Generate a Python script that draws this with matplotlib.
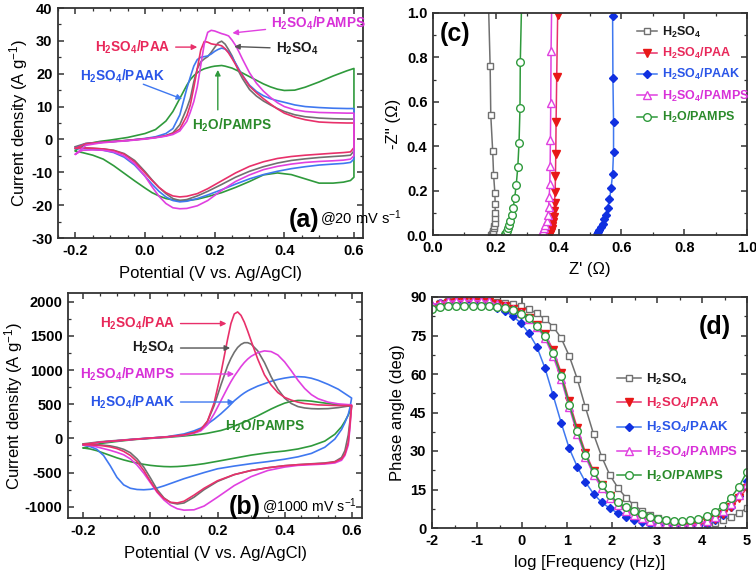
import matplotlib
matplotlib.use('Agg')
import matplotlib.pyplot as plt
from matplotlib.ticker import MultipleLocator
from matplotlib.lines import Line2D

plt.rcParams['font.family'] = ['Liberation Sans', 'DejaVu Sans']
plt.rcParams['mathtext.default'] = 'regular'
plt.rcParams['axes.unicode_minus'] = False
plt.rcParams['axes.linewidth'] = 1.3
plt.rcParams['axes.edgecolor'] = '#333333'

# series names and colours
NAMES = [r'H$_2$SO$_4$', r'H$_2$SO$_4$/PAA', r'H$_2$SO$_4$/PAAK',
         r'H$_2$SO$_4$/PAMPS', r'H$_2$O/PAMPS']
LINE_COLORS = ['#707070', '#e8306a', '#3f78f0', '#e040e0', '#2f9a3c']
TEXT_COLORS = ['#1a1a1a', '#e8285a', '#2a55e8', '#d830d8', '#2a8a2a']
MARK_COLORS = ['#707070', '#e81818', '#1030e0', '#e040e0', '#2f9a3c']

# ---------------- (a) CV @ 20 mV/s ----------------
va_fwd = [-0.20, -0.17, -0.13, -0.10, -0.05, 0.00, 0.03, 0.06, 0.08, 0.10, 0.12, 0.13,
          0.14, 0.15, 0.16, 0.17, 0.18, 0.19, 0.20, 0.21, 0.22, 0.23, 0.24, 0.25, 0.26,
          0.27, 0.28, 0.30, 0.32, 0.34, 0.36, 0.38, 0.40, 0.43, 0.46, 0.50, 0.54, 0.58, 0.60]
ia_fwd_h2so4 = [-2.2, -1.2, -0.9, -0.7, -0.3, 0.2, 0.6, 1.2, 2.0, 4.5, 9.5, 12.5, 17.5, 21.5,
                23.6, 24.5, 25.2, 26.5, 28.0, 29.4, 29.9, 29.0, 27.3, 25.4, 23.0, 20.5, 18.5,
                15.2, 13.2, 11.7, 10.5, 9.4, 8.5, 7.5, 6.9, 6.5, 6.3, 6.2, 6.2]
ia_fwd_paa = [-2.7, -1.3, -0.9, -0.7, -0.3, 0.2, 0.6, 1.1, 1.8, 3.2, 7.2, 10.5, 15.8, 21.5,
              27.2, 29.8, 29.6, 29.1, 28.9, 28.8, 28.5, 27.6, 26.3, 24.6, 22.8, 21.0, 19.4,
              16.2, 14.2, 12.4, 10.8, 9.3, 8.0, 6.8, 6.0, 5.3, 5.1, 5.0, 5.0]
ia_fwd_paak = [-2.6, -1.3, -0.9, -0.7, -0.3, 0.3, 0.8, 1.8, 3.3, 7.5, 15.5, 19.0, 22.3, 24.3,
               25.0, 25.2, 25.4, 26.0, 26.8, 27.4, 27.8, 27.5, 26.6, 25.0, 23.2, 21.3, 19.5,
               16.5, 14.6, 13.3, 12.4, 11.8, 11.3, 10.5, 10.0, 9.7, 9.5, 9.4, 9.4]
ia_fwd_pamps = [-4.5, -1.8, -1.1, -0.8, -0.4, 0.1, 0.5, 1.0, 1.5, 2.6, 5.5, 8.3, 11.5, 16.0,
                22.5, 29.0, 32.6, 33.2, 33.0, 32.6, 32.2, 31.9, 31.5, 30.2, 28.6, 26.6, 24.4,
                20.3, 17.1, 14.7, 12.8, 11.2, 10.0, 9.0, 8.5, 8.2, 8.1, 8.0, 8.0]
ia_fwd_h2o = [-3.3, -1.4, -0.6, -0.2, 0.6, 1.8, 3.0, 5.6, 8.5, 12.5, 16.5, 18.2, 19.4, 20.3,
              21.0, 21.5, 21.8, 22.1, 22.3, 22.4, 22.5, 22.3, 22.0, 21.7, 21.2, 20.7, 20.2,
              19.1, 18.0, 16.9, 16.0, 15.3, 14.9, 15.0, 15.9, 17.5, 19.3, 20.9, 21.6]

va_rev = [0.60, 0.59, 0.57, 0.54, 0.50, 0.46, 0.42, 0.38, 0.34, 0.30, 0.26, 0.22, 0.18, 0.15,
          0.12, 0.10, 0.08, 0.06, 0.04, 0.02, 0.00, -0.03, -0.06, -0.09, -0.12, -0.15, -0.18, -0.20]
ia_rev_h2so4 = [-3.5, -4.8, -5.0, -5.2, -5.5, -5.9, -6.4, -7.2, -8.3, -9.7, -11.5, -13.7, -15.8,
                -17.2, -18.3, -18.6, -18.0, -16.5, -14.6, -12.3, -9.8, -6.4, -4.3, -3.3, -2.9,
                -2.7, -2.5, -2.3]
ia_rev_paa = [-2.5, -3.8, -4.0, -4.2, -4.5, -4.8, -5.2, -5.8, -6.8, -8.2, -10.2, -12.6, -15.0,
              -16.5, -17.3, -17.5, -17.2, -16.2, -14.6, -12.5, -10.2, -6.8, -4.5, -3.4, -2.9,
              -2.7, -2.6, -2.7]
ia_rev_paak = [-6.0, -7.0, -7.3, -7.5, -7.8, -8.3, -8.9, -9.7, -10.7, -12.0, -13.6, -15.3, -16.9,
               -18.0, -18.8, -19.0, -18.6, -17.5, -15.8, -13.6, -11.2, -7.8, -5.4, -4.0, -3.3,
               -3.0, -2.8, -2.8]
ia_rev_pamps = [-5.0, -6.0, -6.3, -6.5, -6.7, -7.0, -7.5, -8.2, -9.2, -10.8, -12.8, -15.5, -18.6,
                -20.2, -21.0, -21.1, -20.8, -19.5, -17.3, -14.4, -11.2, -7.4, -5.0, -3.8, -3.3,
                -3.2, -3.3, -4.5]
ia_rev_h2o = [-11.5, -12.5, -13.0, -13.3, -13.3, -12.0, -10.7, -10.2, -10.8, -12.8, -14.6, -16.2,
              -17.4, -18.2, -18.6, -18.6, -18.4, -18.0, -17.2, -16.2, -14.8, -12.6, -10.3, -8.0,
              -6.0, -4.8, -4.0, -3.6]

# ---------------- (b) CV @ 1000 mV/s ----------------
vb_fwd = [-0.20, -0.15, -0.10, -0.05, 0.00, 0.05, 0.10, 0.13, 0.15, 0.17, 0.19, 0.21, 0.23,
          0.24, 0.25, 0.26, 0.27, 0.28, 0.29, 0.30, 0.32, 0.34, 0.36, 0.38, 0.40, 0.42, 0.44,
          0.46, 0.48, 0.50, 0.53, 0.56, 0.60]
ib_fwd_h2so4 = [-80, -50, -30, -12, 5, 22, 50, 85, 125, 250, 480, 780, 1060, 1170, 1260, 1330,
                1375, 1400, 1400, 1380, 1280, 1110, 900, 720, 590, 510, 465, 445, 435, 432,
                435, 450, 480]
ib_fwd_paa = [-90, -55, -35, -15, 5, 22, 50, 85, 130, 250, 520, 950, 1450, 1680, 1820, 1850,
              1800, 1700, 1570, 1430, 1160, 930, 780, 670, 600, 560, 530, 510, 500, 490, 485,
              480, 480]
ib_fwd_paak = [-100, -55, -35, -12, 5, 25, 65, 110, 150, 210, 280, 360, 450, 500, 550, 590, 630,
               665, 695, 720, 765, 800, 835, 862, 882, 897, 903, 898, 880, 850, 790, 720, 590]
ib_fwd_pamps = [-95, -55, -35, -15, 3, 20, 45, 75, 110, 200, 360, 550, 740, 830, 910, 980, 1050,
                1110, 1160, 1200, 1255, 1280, 1270, 1220, 1120, 990, 850, 730, 640, 580, 530,
                505, 490]
ib_fwd_h2o = [-140, -75, -45, -18, 0, 15, 35, 50, 60, 75, 95, 115, 145, 160, 180, 200, 220, 240,
              262, 285, 330, 380, 430, 475, 515, 542, 555, 553, 545, 530, 510, 490, 470]

vb_rev = [0.60, 0.595, 0.59, 0.58, 0.57, 0.55, 0.52, 0.48, 0.44, 0.40, 0.35, 0.30, 0.25, 0.20,
          0.16, 0.13, 0.10, 0.08, 0.06, 0.04, 0.02, 0.00, -0.02, -0.04, -0.06, -0.08, -0.10,
          -0.12, -0.14, -0.16, -0.18, -0.20]
ib_rev_h2so4 = [480, 250, 50, -180, -280, -340, -360, -372, -385, -400, -430, -470, -530, -630,
                -750, -860, -945, -960, -940, -870, -750, -580, -420, -300, -210, -160, -130,
                -110, -100, -92, -85, -80]
ib_rev_paa = [480, 200, -60, -230, -300, -345, -365, -375, -385, -400, -430, -470, -530, -620,
              -730, -830, -920, -945, -935, -880, -780, -630, -470, -340, -250, -190, -150,
              -125, -110, -100, -95, -90]
ib_rev_paak = [590, 450, 350, 230, 130, -10, -130, -220, -270, -305, -340, -370, -405, -445,
               -500, -545, -590, -625, -660, -695, -725, -745, -752, -748, -730, -680, -570,
               -400, -250, -160, -120, -100]
ib_rev_pamps = [490, 150, -100, -250, -320, -360, -375, -385, -395, -420, -470, -560, -690, -860,
                -990, -1045, -1050, -1030, -980, -900, -790, -650, -510, -390, -300, -240,
                -205, -175, -150, -125, -105, -95]
ib_rev_h2o = [470, 400, 340, 250, 170, 60, -40, -110, -155, -185, -210, -245, -290, -335, -370,
              -390, -405, -412, -415, -412, -405, -395, -380, -362, -340, -315, -285, -250,
              -215, -180, -155, -140]

# ---------------- (c) Nyquist ----------------
zr_h2so4 = [0.186, 0.188, 0.190, 0.192, 0.193, 0.195, 0.196, 0.197, 0.198, 0.198, 0.197, 0.193,
            0.190, 0.184, 0.182, 0.176]
zi_h2so4 = [0.002, 0.006, 0.012, 0.020, 0.030, 0.040, 0.055, 0.075, 0.100, 0.140, 0.190, 0.270,
            0.380, 0.540, 0.760, 1.080]
zr_paa = [0.373, 0.374, 0.376, 0.378, 0.380, 0.382, 0.384, 0.386, 0.387, 0.389, 0.390, 0.391,
          0.392, 0.394, 0.397, 0.399]
zi_paa = [0.003, 0.008, 0.015, 0.025, 0.040, 0.060, 0.080, 0.110, 0.145, 0.195, 0.265, 0.365,
          0.510, 0.710, 0.990, 1.100]
zr_paak = [0.522, 0.526, 0.530, 0.535, 0.540, 0.545, 0.550, 0.556, 0.562, 0.567, 0.572, 0.575,
           0.575, 0.573, 0.572, 0.571]
zi_paak = [0.005, 0.012, 0.022, 0.035, 0.050, 0.070, 0.090, 0.120, 0.160, 0.210, 0.275, 0.375,
           0.510, 0.705, 0.985, 1.100]
zr_pamps = [0.344, 0.347, 0.350, 0.355, 0.358, 0.362, 0.365, 0.368, 0.370, 0.372, 0.373, 0.374,
            0.375, 0.376, 0.379]
zi_pamps = [0.004, 0.010, 0.018, 0.030, 0.045, 0.065, 0.090, 0.125, 0.170, 0.230, 0.310, 0.430,
            0.595, 0.830, 1.150]
zr_h2o = [0.230, 0.232, 0.235, 0.238, 0.242, 0.246, 0.250, 0.255, 0.260, 0.265, 0.270, 0.274,
          0.277, 0.278, 0.283]
zi_h2o = [0.005, 0.010, 0.018, 0.030, 0.045, 0.065, 0.090, 0.120, 0.165, 0.225, 0.305, 0.415,
          0.570, 0.780, 1.100]

# ---------------- (d) Bode phase ----------------
log_f = [-2.00, -1.82, -1.64, -1.46, -1.28, -1.10, -0.92, -0.74, -0.56, -0.38, -0.21, -0.03,
         0.15, 0.33, 0.51, 0.69, 0.87, 1.05, 1.23, 1.41, 1.59, 1.77, 1.95, 2.13, 2.31, 2.49,
         2.67, 2.85, 3.03, 3.21, 3.38, 3.56, 3.74, 3.92, 4.10, 4.28, 4.46, 4.64, 4.82, 5.00]
ph_h2so4 = [86.0, 87.5, 88.3, 88.6, 88.7, 88.7, 88.7, 88.6, 88.2, 87.8, 87.3, 86.4, 85.3, 83.6,
            81.4, 78.5, 74.0, 67.0, 58.0, 47.0, 36.6, 27.8, 20.7, 15.7, 11.8, 8.9, 6.7, 5.2,
            4.0, 3.1, 2.4, 1.8, 1.4, 1.2, 1.4, 2.0, 3.0, 4.3, 5.8, 7.8]
ph_paa = [85.5, 87.0, 87.8, 88.2, 88.3, 88.3, 88.2, 88.0, 87.2, 86.5, 85.5, 84.0, 82.0, 79.2,
          75.5, 69.5, 60.5, 49.3, 38.8, 29.4, 22.2, 16.8, 12.5, 9.4, 7.0, 5.2, 3.9, 2.9, 2.1,
          1.5, 1.1, 0.9, 0.9, 1.3, 2.2, 3.5, 5.5, 8.2, 11.5, 15.6]
ph_paak = [86.5, 87.5, 88.0, 88.2, 88.2, 88.0, 87.5, 86.8, 85.7, 84.5, 82.6, 79.9, 76.0, 70.6,
           62.3, 51.8, 41.0, 31.0, 23.8, 17.9, 13.3, 10.0, 7.7, 5.8, 4.3, 3.2, 2.3, 1.7, 1.2,
           0.8, 0.6, 0.5, 0.5, 0.8, 1.5, 3.0, 5.2, 8.2, 12.5, 18.3]
ph_pamps = [87.0, 87.8, 88.3, 88.5, 88.6, 88.6, 88.5, 88.3, 87.1, 86.3, 85.2, 83.6, 81.4, 78.5,
            74.0, 67.0, 58.0, 47.0, 36.6, 27.8, 20.7, 15.7, 11.8, 8.9, 6.7, 5.2, 3.9, 2.9, 2.1,
            1.5, 1.2, 1.0, 1.1, 1.6, 2.7, 4.3, 6.5, 9.5, 13.0, 17.0]
ph_h2o = [85.5, 86.2, 86.5, 86.6, 86.6, 86.6, 86.6, 86.5, 86.2, 85.7, 85.0, 83.5, 81.7, 78.8,
          74.7, 68.3, 59.4, 48.1, 37.7, 28.6, 21.7, 16.6, 12.8, 10.0, 8.0, 6.5, 5.3, 4.4, 3.7,
          3.2, 2.9, 2.8, 3.0, 3.6, 4.6, 6.2, 8.5, 11.8, 16.0, 22.0]

W, H = 756, 573
fig = plt.figure(figsize=(W / 100, H / 100), dpi=100)


def box(l, t, r, b):
    return [l / W, 1 - b / H, (r - l) / W, (b - t) / H]


ax_a = fig.add_axes(box(58, 8, 363, 238))
ax_c = fig.add_axes(box(433, 13, 747, 235))
ax_b = fig.add_axes(box(68, 293, 362, 518))
ax_d = fig.add_axes(box(432, 297, 747, 528))


def style(ax, xmaj, xmin, ymaj, ymin):
    ax.xaxis.set_major_locator(MultipleLocator(xmaj))
    ax.xaxis.set_minor_locator(MultipleLocator(xmin))
    ax.yaxis.set_major_locator(MultipleLocator(ymaj))
    ax.yaxis.set_minor_locator(MultipleLocator(ymin))
    ax.tick_params(which='both', direction='in', top=True, right=True, color='#333333')
    ax.tick_params(which='major', length=4, width=1.1, labelsize=10.5, pad=4)
    ax.tick_params(which='minor', length=2, width=0.9)
    for lab in ax.get_xticklabels() + ax.get_yticklabels():
        lab.set_fontweight('bold')


LBL = dict(fontsize=12)

# ---- panel (a)
cv_a = [(ia_fwd_h2so4, ia_rev_h2so4), (ia_fwd_paa, ia_rev_paa), (ia_fwd_paak, ia_rev_paak),
        (ia_fwd_pamps, ia_rev_pamps), (ia_fwd_h2o, ia_rev_h2o)]
for k in [4, 0, 2, 1, 3]:
    fwd, rev = cv_a[k]
    ax_a.plot(va_fwd + va_rev, fwd + rev, color=LINE_COLORS[k], lw=1.2)
ax_a.set_xlim(-0.25, 0.626)
ax_a.set_ylim(-30, 40)
style(ax_a, 0.2, 0.05, 10, 5)
ax_a.set_xlabel('Potential (V vs. Ag/AgCl)', labelpad=6, **LBL)
ax_a.set_ylabel(r'Current density (A g$^{-1}$)', labelpad=1, **LBL)

ann = dict(fontsize=9.8, fontweight='bold', va='center')
arr = dict(arrowstyle='-|>', lw=1, mutation_scale=8)
ax_a.annotate(NAMES[3], xy=(0.243, 32.3), xytext=(0.362, 35.2), color=TEXT_COLORS[3],
              ha='left', arrowprops=dict(color=LINE_COLORS[3], **arr), **ann)
ax_a.annotate(NAMES[1], xy=(0.158, 28.1), xytext=(0.072, 28.1), color=TEXT_COLORS[1],
              ha='right', arrowprops=dict(color=LINE_COLORS[1], **arr), **ann)
ax_a.annotate(NAMES[0], xy=(0.248, 28.3), xytext=(0.375, 27.6), color=TEXT_COLORS[0],
              ha='left', arrowprops=dict(color='#555555', **arr), **ann)
ax_a.text(-0.063, 19.3, NAMES[2], color=TEXT_COLORS[2], ha='center', **ann)
ax_a.annotate('', xy=(0.114, 12.0), xytext=(-0.005, 16.8),
              arrowprops=dict(color=LINE_COLORS[2], shrinkA=0, **arr))
ax_a.annotate('', xy=(0.209, 22.0), xytext=(0.209, 9.0),
              arrowprops=dict(color=LINE_COLORS[4], shrinkA=0, **arr))
ax_a.text(0.251, 4.4, NAMES[4], color=TEXT_COLORS[4], ha='center', **ann)
ax_a.text(0.500, -24.4, '(a)', fontsize=18, fontweight='bold', ha='right', va='center')
ax_a.text(0.502, -24.2, r'@20 mV s$^{-1}$', fontsize=10.5, ha='left', va='center')

# ---- panel (b)
cv_b = [(ib_fwd_h2so4, ib_rev_h2so4), (ib_fwd_paa, ib_rev_paa), (ib_fwd_paak, ib_rev_paak),
        (ib_fwd_pamps, ib_rev_pamps), (ib_fwd_h2o, ib_rev_h2o)]
for k in [4, 2, 0, 3, 1]:
    fwd, rev = cv_b[k]
    ax_b.plot(vb_fwd + vb_rev, fwd + rev, color=LINE_COLORS[k], lw=1.2)
ax_b.set_xlim(-0.246, 0.631)
ax_b.set_ylim(-1165, 2127)
style(ax_b, 0.2, 0.05, 500, 250)
ax_b.set_xlabel('Potential (V vs. Ag/AgCl)', labelpad=6, **LBL)
ax_b.set_ylabel(r'Current density (A g$^{-1}$)', labelpad=0, **LBL)

b_labels = [(1, 1680, 0.235), (0, 1322, 0.246), (3, 942, 0.258), (2, 532, 0.258)]
for k, yv, xe in b_labels:
    acol = '#555555' if k == 0 else LINE_COLORS[k]
    ax_b.annotate(NAMES[k], xy=(xe, yv), xytext=(0.073, yv), color=TEXT_COLORS[k],
                  ha='right', arrowprops=dict(color=acol, shrinkA=2, **arr), **ann)
ax_b.text(0.341, 181, NAMES[4], color=TEXT_COLORS[4], ha='center', **ann)
ax_b.text(0.330, -1000, '(b)', fontsize=18, fontweight='bold', ha='right', va='center')
ax_b.text(0.332, -995, r'@1000 mV s$^{-1}$', fontsize=10.2, ha='left', va='center')

# ---- panel (c)
nyq = [(zr_h2so4, zi_h2so4), (zr_paa, zi_paa), (zr_paak, zi_paak), (zr_pamps, zi_pamps),
       (zr_h2o, zi_h2o)]
MARKERS = ['s', 'v', 'D', '^', 'o']
FILLED = [False, True, True, False, False]
MSIZE = [5, 5.5, 4.5, 5.5, 5.5]


def mk(k):
    return dict(color=LINE_COLORS[k] if k in (1, 2) else MARK_COLORS[k], lw=1.1,
                marker=MARKERS[k], ms=MSIZE[k], mec=MARK_COLORS[k],
                mfc=MARK_COLORS[k] if FILLED[k] else 'white', mew=1.0)


for k in range(5):
    zr, zi = nyq[k]
    ax_c.plot(zr, zi, clip_on=True, **mk(k))
ax_c.set_xlim(0, 1)
ax_c.set_ylim(0, 1)
style(ax_c, 0.2, 0.1, 0.2, 0.1)
ax_c.set_xlabel("Z' (Ω)", labelpad=5, **LBL)
ax_c.set_ylabel("-Z'' (Ω)", labelpad=4, **LBL)
ax_c.text(0.02, 0.905, '(c)', transform=ax_c.transAxes, fontsize=18, fontweight='bold',
          va='center')

handles = [Line2D([], [], **mk(k)) for k in range(5)]
ax_c.legend(handles, NAMES, loc='upper left', bbox_to_anchor=(0.635, 0.97), frameon=False,
            handlelength=1.6, handletextpad=0.35, labelspacing=0.5, borderaxespad=0,
            prop=dict(size=9.0, weight='bold'), labelcolor=TEXT_COLORS)

# ---- panel (d)
bode = [ph_h2so4, ph_paa, ph_paak, ph_pamps, ph_h2o]
for k in [0, 2, 1, 3, 4]:
    ax_d.plot(log_f, bode[k], **mk(k))
ax_d.set_xlim(-2, 5)
ax_d.set_ylim(0, 90)
style(ax_d, 1, 0.5, 15, 7.5)
ax_d.set_xlabel('log [Frequency (Hz)]', labelpad=5, **LBL)
ax_d.set_ylabel('Phase angle (deg)', labelpad=4, **LBL)
ax_d.text(0.95, 0.87, '(d)', transform=ax_d.transAxes, fontsize=18, fontweight='bold',
          va='center', ha='right')
ax_d.legend(handles, NAMES, loc='upper left', bbox_to_anchor=(0.57, 0.70), frameon=False,
            handlelength=1.8, handletextpad=0.4, labelspacing=0.7, borderaxespad=0,
            prop=dict(size=9.5, weight='bold'), labelcolor=TEXT_COLORS)

fig.savefig('out.png', dpi=100)
